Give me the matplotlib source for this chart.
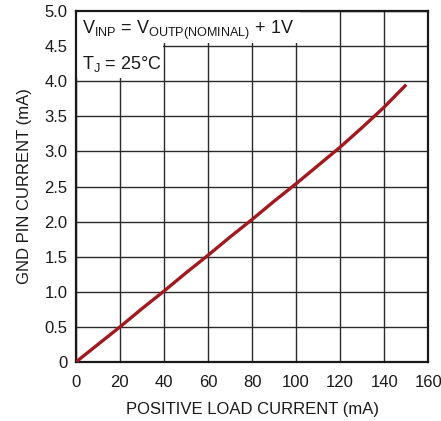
import matplotlib
matplotlib.use('Agg')
import matplotlib.pyplot as plt
from matplotlib.patches import Rectangle

# datos
carga_ma = [0, 10, 20, 30, 40, 50, 60, 70, 80, 90, 100, 110, 120, 130, 140, 150]
gnd_ma = [0.0, 0.25, 0.50, 0.76, 1.01, 1.27, 1.52, 1.78, 2.03, 2.29, 2.54, 2.80, 3.06, 3.34, 3.63, 3.95]

xticks = [0, 20, 40, 60, 80, 100, 120, 140, 160]
yticks = [0, 0.5, 1.0, 1.5, 2.0, 2.5, 3.0, 3.5, 4.0, 4.5, 5.0]
ytick_labels = ['0', '0.5', '1.0', '1.5', '2.0', '2.5', '3.0', '3.5', '4.0', '4.5', '5.0']

plt.rcParams['font.family'] = ['Liberation Sans', 'DejaVu Sans']
plt.rcParams['mathtext.fontset'] = 'custom'
plt.rcParams['mathtext.rm'] = 'Liberation Sans'

fig = plt.figure(figsize=(4.41, 4.21), dpi=100)
ax = fig.add_axes([0.172, 0.140, 0.799, 0.834])

ax.plot(carga_ma, gnd_ma, color='#a01a20', lw=2.4, zorder=3, solid_capstyle='butt')

ax.set_xlim(0, 160)
ax.set_ylim(0, 5.0)
ax.set_xticks(xticks)
ax.set_yticks(yticks)
ax.set_yticklabels(ytick_labels)
ax.grid(True, color='#2a2a2a', lw=1.0)
ax.tick_params(length=0, labelsize=12, colors='#1a1a1a')
ax.tick_params(axis='x', pad=9)
ax.tick_params(axis='y', pad=6)
for s in ax.spines.values():
    s.set_linewidth(1.6)
    s.set_color('#1a1a1a')

ax.set_xlabel('POSITIVE LOAD CURRENT (mA)', fontsize=12, color='#1a1a1a', labelpad=9)
ax.set_ylabel('GND PIN CURRENT (mA)', fontsize=12, color='#1a1a1a', labelpad=9)

# cajas blancas detrás de las anotaciones
ax.add_patch(Rectangle((0, 0.909), 0.636, 0.091, transform=ax.transAxes,
                       facecolor='white', edgecolor='none', zorder=2.5))
ax.add_patch(Rectangle((0, 0.809), 0.247, 0.100, transform=ax.transAxes,
                       facecolor='white', edgecolor='none', zorder=2.5))

ax.text(0.017, 0.934, r'V$_{\mathregular{INP}}$ = V$_{\mathregular{OUTP(NOMINAL)}}$ + 1V',
        transform=ax.transAxes, fontsize=13, va='baseline', ha='left', color='#1a1a1a', zorder=4)
ax.text(0.017, 0.834, r'T$_{\mathregular{J}}$ = 25°C',
        transform=ax.transAxes, fontsize=13, va='baseline', ha='left', color='#1a1a1a', zorder=4)

plt.savefig('out.png', dpi=100)
